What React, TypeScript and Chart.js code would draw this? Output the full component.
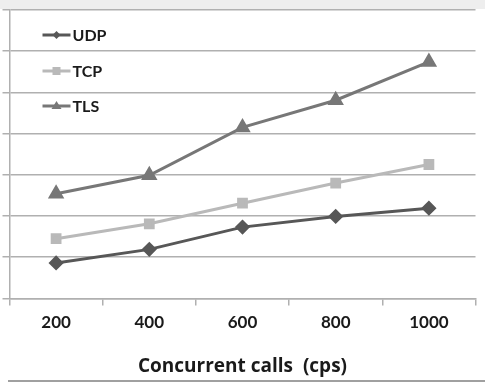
import React, { useEffect, useRef } from "react";
import { Chart, registerables } from "chart.js";

Chart.register(...registerables);

const categories = ["200", "400", "600", "800", "1000"];
const udpValues = [0.86, 1.19, 1.73, 1.99, 2.19];
const tcpValues = [1.45, 1.81, 2.31, 2.8, 3.25];
const tlsValues = [2.54, 2.99, 4.15, 4.81, 5.74];
const seriesNames = ["UDP", "TCP", "TLS"];
const xTitle = "Concurrent calls  (cps)";

const FONT = "Lato, 'Open Sans', sans-serif";
const TITLE_FONT = "'Open Sans', sans-serif";

const backgroundPlugin = {
  id: "bgFrame",
  beforeDraw(chart: any) {
    const { ctx, width } = chart;
    ctx.save();
    ctx.fillStyle = "#ffffff";
    ctx.fillRect(0, 0, width, chart.height);
    ctx.fillStyle = "#eeeeee";
    ctx.fillRect(0, 0, width, 9);
    ctx.strokeStyle = "#a0a0a0";
    ctx.lineWidth = 2;
    ctx.beginPath();
    ctx.moveTo(8, 381);
    ctx.lineTo(width, 381);
    ctx.stroke();
    ctx.restore();
  },
};

const insideLegendPlugin = {
  id: "insideLegend",
  afterDraw(chart: any) {
    const { ctx, chartArea } = chart;
    const x0 = chartArea.left + 33;
    const x1 = chartArea.left + 61;
    const ys = [35, 71, 106];
    ctx.save();
    chart.data.datasets.forEach((ds: any, i: number) => {
      const y = ys[i];
      ctx.strokeStyle = ds.borderColor;
      ctx.lineWidth = 3;
      ctx.beginPath();
      ctx.moveTo(x0, y);
      ctx.lineTo(x1, y);
      ctx.stroke();
      ctx.fillStyle = ds.pointBackgroundColor;
      ctx.beginPath();
      const cx = (x0 + x1) / 2;
      const r = 4;
      if (ds.pointStyle === "rectRot") {
        ctx.moveTo(cx, y - r);
        ctx.lineTo(cx + r, y);
        ctx.lineTo(cx, y + r);
        ctx.lineTo(cx - r, y);
      } else if (ds.pointStyle === "rect") {
        ctx.rect(cx - r, y - r, 2 * r, 2 * r);
      } else {
        ctx.moveTo(cx, y - r - 1);
        ctx.lineTo(cx + r + 1, y + r - 1);
        ctx.lineTo(cx - r - 1, y + r - 1);
      }
      ctx.closePath();
      ctx.fill();
      ctx.fillStyle = "#1a1a1a";
      ctx.font = `bold 16px ${FONT}`;
      ctx.textBaseline = "middle";
      ctx.textAlign = "left";
      ctx.fillText(ds.label, x1 + 2, y + 1);
    });
    ctx.restore();
  },
};

export default function App() {
  const ref = useRef<HTMLCanvasElement | null>(null);

  useEffect(() => {
    if (!ref.current) return;
    const chart = new Chart(ref.current, {
      type: "line",
      data: {
        labels: categories,
        datasets: [
          {
            label: seriesNames[0],
            data: udpValues,
            borderColor: "#575757",
            backgroundColor: "#575757",
            pointBackgroundColor: "#575757",
            pointBorderColor: "#575757",
            pointStyle: "rectRot",
            pointRadius: 5.5,
            borderWidth: 3,
          },
          {
            label: seriesNames[1],
            data: tcpValues,
            borderColor: "#b9b9b9",
            backgroundColor: "#b9b9b9",
            pointBackgroundColor: "#b9b9b9",
            pointBorderColor: "#b9b9b9",
            pointStyle: "rect",
            pointRadius: 5.5,
            borderWidth: 3,
          },
          {
            label: seriesNames[2],
            data: tlsValues,
            borderColor: "#777777",
            backgroundColor: "#777777",
            pointBackgroundColor: "#777777",
            pointBorderColor: "#777777",
            pointStyle: "triangle",
            pointRadius: 6.5,
            borderWidth: 3,
          },
        ],
      },
      options: {
        animation: false,
        responsive: false,
        maintainAspectRatio: false,
        layout: { padding: { left: 0, right: 0, top: 10, bottom: 0 } },
        plugins: {
          legend: { display: false },
          tooltip: { enabled: false },
          title: {
            display: true,
            position: "bottom",
            text: xTitle,
            color: "#1a1a1a",
            font: { family: TITLE_FONT, size: 19, weight: "bold" },
            padding: { top: 15.8, bottom: 4.6 },
          },
        },
        scales: {
          x: {
            type: "category",
            offset: true,
            grid: {
              offset: true,
              drawOnChartArea: false,
              drawTicks: true,
              tickLength: 7,
              color: "#b0b0b0",
              lineWidth: 1.5,
            },
            border: { display: true, color: "#b0b0b0", width: 1.5 },
            ticks: {
              color: "#1a1a1a",
              font: { family: FONT, size: 17, weight: "bold" },
              padding: 7,
              maxRotation: 0,
            },
          },
          y: {
            min: 0,
            max: 7,
            ticks: { display: false, stepSize: 1 },
            grid: {
              drawTicks: true,
              tickLength: 7,
              color: "#b0b0b0",
              lineWidth: 1.5,
            },
            border: { display: true, color: "#b0b0b0", width: 1.5 },
          },
        },
      },
      plugins: [backgroundPlugin, insideLegendPlugin],
    });
    return () => chart.destroy();
  }, []);

  return (
    <div style={{ position: "fixed", left: 0, top: 0, width: 485, height: 383 }}>
      <canvas ref={ref} width={485} height={383} style={{ width: 485, height: 383 }} />
    </div>
  );
}
